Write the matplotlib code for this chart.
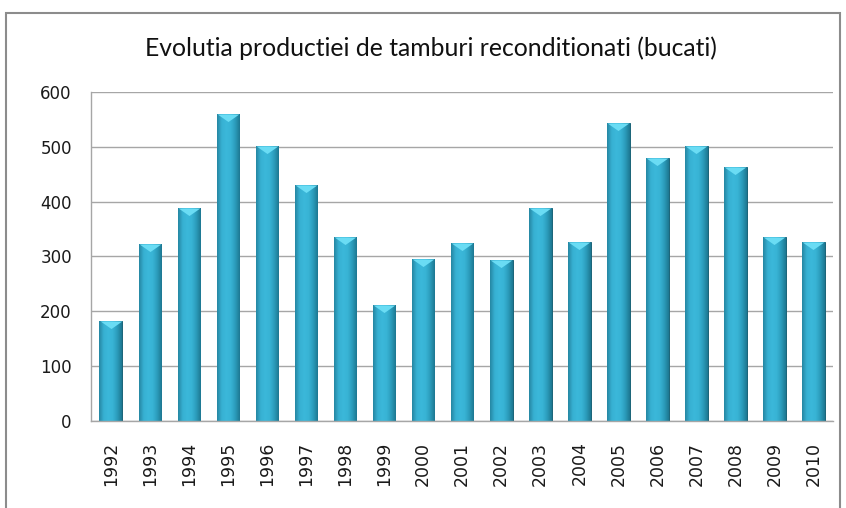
import matplotlib
matplotlib.use("Agg")
import matplotlib.pyplot as plt
import numpy as np
from matplotlib.patches import Rectangle
from matplotlib.path import Path
from matplotlib.colors import LinearSegmentedColormap

years = ["1992", "1993", "1994", "1995", "1996", "1997", "1998", "1999", "2000", "2001",
         "2002", "2003", "2004", "2005", "2006", "2007", "2008", "2009", "2010"]
values = [182, 322, 389, 560, 501, 430, 335, 211, 295, 324,
          293, 388, 327, 543, 479, 501, 463, 335, 327]
yticks = [0, 100, 200, 300, 400, 500, 600]
title = "Evolutia productiei de tamburi reconditionati (bucati)"

plt.rcParams['font.family'] = ['DejaVu Sans']

fig = plt.figure(figsize=(8.46, 5.08), dpi=100)
fig.patches.append(Rectangle((6 / 846, -0.05), 834 / 846, 1 - 13 / 508 + 0.05,
                             transform=fig.transFigure, fill=False,
                             edgecolor='#8c8c8c', linewidth=1.5))

ax = fig.add_axes([91.3 / 846, 1 - 420.7 / 508, (833 - 91.3) / 846, (420.7 - 92) / 508])
x = list(range(len(years)))
bars = ax.bar(x, values, width=0.58, color='#33AACA', edgecolor='#1a6377', linewidth=0.7, zorder=3)

cmap = LinearSegmentedColormap.from_list(
    "bar", ['#2587a3', '#37b0d2', '#3bb8da', '#38b3d5', '#2b9cbb', '#1d7892'])
grad = np.linspace(0, 1, 64).reshape(1, -1)
for b in bars:
    im = ax.imshow(grad, cmap=cmap, aspect='auto', zorder=3,
                   extent=(b.get_x(), b.get_x() + b.get_width(), 0, b.get_height()))
    im.set_clip_path(b)

tri = Path([(-1, 0), (1, 0), (0, -0.7), (-1, 0)],
           [Path.MOVETO, Path.LINETO, Path.LINETO, Path.CLOSEPOLY])
ax.plot(x, values, linestyle='none', marker=tri, markersize=15.5,
        markerfacecolor='#6adcf4', markeredgewidth=0, zorder=4)

ax.set_xlim(-0.5, len(years) - 0.5)
ax.set_ylim(0, 600)
ax.set_yticks(yticks)
ax.set_xticks(x)
ax.set_xticklabels(years, rotation=90, fontsize=12.5, fontfamily='DejaVu Sans')
ax.set_yticklabels([str(v) for v in yticks], fontsize=12, fontfamily='DejaVu Sans')
ax.tick_params(axis='x', length=0, pad=15, colors='#1a1a1a')
ax.tick_params(axis='y', length=0, pad=14, colors='#1a1a1a')
ax.grid(axis='y', color='#a6a6a6', linewidth=1, zorder=0)
for s in ['top', 'right']:
    ax.spines[s].set_visible(False)
for s in ['left', 'bottom']:
    ax.spines[s].set_color('#a6a6a6')
    ax.spines[s].set_linewidth(1)
    ax.spines[s].set_zorder(5)

fig.text(431 / 846, 1 - 48 / 508, title, ha='center', va='center', fontsize=17.8,
         family=['Lato', 'DejaVu Sans'], color='#111111')

fig.savefig("out.png", dpi=100)
